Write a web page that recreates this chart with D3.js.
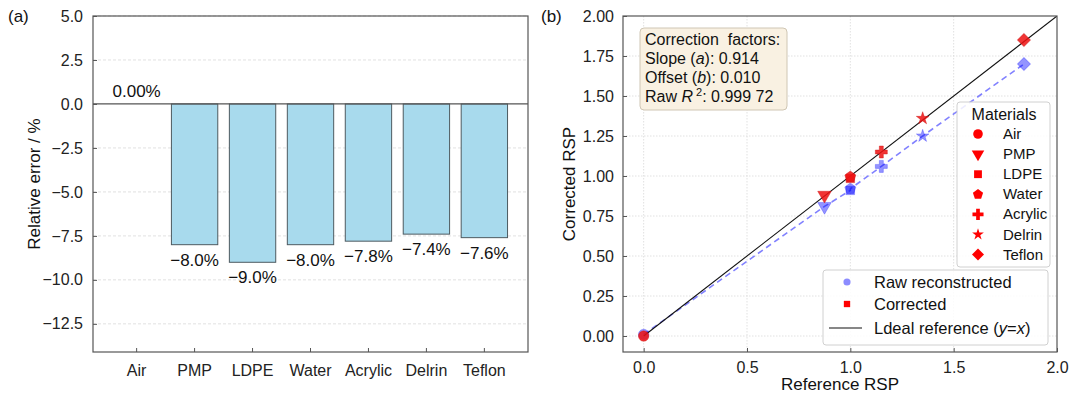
<!DOCTYPE html>
<html>
<head>
<meta charset="utf-8">
<script src="https://cdn.jsdelivr.net/npm/d3@7"></script>
<style>
  body { margin: 0; background: #fff; }
  svg { font-family: "Liberation Sans", Arial, sans-serif; display: block; }
  .grid line { stroke: #d9d9d9; stroke-width: 0.8; }
  .tick text { fill: #222; }
</style>
</head>
<body>
<div id="viz"></div>
<script>
const width = 1073;
const height = 399;

// data
const categories = ["Air", "PMP", "LDPE", "Water", "Acrylic", "Delrin", "Teflon"];
const relError = [0, -8.0, -9.0, -8.0, -7.8, -7.4, -7.6];
const errLabels = ["0.00%", "\u22128.0%", "\u22129.0%", "\u22128.0%", "\u22127.8%", "\u22127.4%", "\u22127.6%"];
const leftTicks = [5.0, 2.5, 0.0, -2.5, -5.0, -7.5, -10.0, -12.5];

const refRSP = [0.0, 0.875, 1.0, 1.0, 1.15, 1.35, 1.84];
const rawRSP = [0.01, 0.81, 0.91, 0.92, 1.06, 1.25, 1.70];
const corrRSP = [0.0, 0.88, 0.985, 0.995, 1.15, 1.36, 1.85];
const rightXTicks = [0.0, 0.5, 1.0, 1.5, 2.0];
const rightYTicks = [0.0, 0.25, 0.5, 0.75, 1.0, 1.25, 1.5, 1.75, 2.0];

const svg = d3.select("#viz")
    .append("svg")
    .attr("width", width)
    .attr("height", height);

const spine = "#555";
const minus = s => s.replace("-", "\u2212");

// ---------- panel (a) ----------
const a = { left: 93, right: 528, top: 16, bottom: 352 };

const xBand = d3.scaleBand()
    .domain(categories)
    .range([a.left, a.right])
    .paddingInner(0.2)
    .paddingOuter(0.353);

const yA = d3.scaleLinear()
    .domain([-14.1, 5.0])
    .range([a.bottom, a.top]);

const gA = svg.append("g");

// horizontal dashed grid
gA.append("g").attr("class", "grid")
    .selectAll("line")
    .data(leftTicks.filter(d => d !== 0))
    .join("line")
    .attr("x1", a.left).attr("x2", a.right)
    .attr("y1", d => yA(d)).attr("y2", d => yA(d))
    .attr("stroke-dasharray", "3,2");

// bars
gA.selectAll("rect.bar")
    .data(categories)
    .join("rect")
    .attr("class", "bar")
    .attr("x", d => xBand(d))
    .attr("width", xBand.bandwidth())
    .attr("y", (d, i) => yA(Math.max(0, relError[i])))
    .attr("height", (d, i) => Math.abs(yA(relError[i]) - yA(0)))
    .attr("fill", "#a8daed")
    .attr("stroke", "#4d5a60")
    .attr("stroke-width", 1);

// zero line
gA.append("line")
    .attr("x1", a.left).attr("x2", a.right)
    .attr("y1", yA(0)).attr("y2", yA(0))
    .attr("stroke", "#555").attr("stroke-width", 1.2);

// value labels
gA.selectAll("text.val")
    .data(categories)
    .join("text")
    .attr("class", "val")
    .attr("x", d => xBand(d) + xBand.bandwidth() / 2)
    .attr("y", (d, i) => relError[i] === 0 ? yA(0) - 7 : yA(relError[i]) + 21)
    .attr("text-anchor", "middle")
    .attr("font-size", 17)
    .attr("fill", "#111")
    .text((d, i) => errLabels[i]);

// axes
const axA_y = d3.axisLeft(yA).tickValues(leftTicks)
    .tickFormat(d => minus(d3.format(".1f")(d)))
    .tickSize(-4).tickPadding(10);
gA.append("g")
    .attr("transform", `translate(${a.left},0)`)
    .call(axA_y)
    .call(g => g.select(".domain").remove())
    .call(g => g.selectAll(".tick line").attr("stroke", spine))
    .call(g => g.selectAll(".tick text").attr("font-size", 16));

const axA_x = d3.axisBottom(xBand).tickSize(-4).tickPadding(13);
gA.append("g")
    .attr("transform", `translate(0,${a.bottom})`)
    .call(axA_x)
    .call(g => g.select(".domain").remove())
    .call(g => g.selectAll(".tick line").attr("stroke", spine))
    .call(g => g.selectAll(".tick text").attr("font-size", 16));

gA.append("rect")
    .attr("x", a.left).attr("y", a.top)
    .attr("width", a.right - a.left).attr("height", a.bottom - a.top)
    .attr("fill", "none").attr("stroke", spine).attr("stroke-width", 1.2);

gA.append("text")
    .attr("transform", `translate(40, ${(a.top + a.bottom) / 2}) rotate(-90)`)
    .attr("text-anchor", "middle")
    .attr("font-size", 17)
    .attr("fill", "#111")
    .text("Relative error / %");

svg.append("text").attr("x", 8).attr("y", 22).attr("font-size", 17).attr("fill", "#111").text("(a)");

// ---------- panel (b) ----------
const b = { left: 623, right: 1057, top: 16, bottom: 352 };

const xB = d3.scaleLinear().domain([-0.1, 2.0]).range([b.left, b.right]);
const yB = d3.scaleLinear().domain([-0.1, 2.0]).range([b.bottom, b.top]);

const gB = svg.append("g");

const gridB = gB.append("g").attr("class", "grid");
gridB.selectAll("line.gx")
    .data(rightXTicks.slice(0, -1))
    .join("line")
    .attr("x1", d => xB(d)).attr("x2", d => xB(d))
    .attr("y1", b.top).attr("y2", b.bottom)
    .attr("stroke-dasharray", "1.5,1.5");
gridB.selectAll("line.gy")
    .data(rightYTicks.slice(0, -1))
    .join("line")
    .attr("x1", b.left).attr("x2", b.right)
    .attr("y1", d => yB(d)).attr("y2", d => yB(d))
    .attr("stroke-dasharray", "1.5,1.5");

// pentagon marker
const symbolPentagon = {
    draw(ctx, size) {
        const r = Math.sqrt(size / 2.378);
        for (let k = 0; k < 5; k++) {
            const ang = -Math.PI / 2 + k * 2 * Math.PI / 5;
            const px = r * Math.cos(ang), py = r * Math.sin(ang);
            if (k === 0) ctx.moveTo(px, py); else ctx.lineTo(px, py);
        }
        ctx.closePath();
    }
};

const markers = [
    { type: d3.symbolCircle, size: 85, rot: 0 },
    { type: d3.symbolTriangle, size: 80, rot: 180 },
    { type: d3.symbolSquare, size: 72, rot: 0 },
    { type: symbolPentagon, size: 80, rot: 0 },
    { type: d3.symbolCross, size: 80, rot: 0 },
    { type: d3.symbolStar, size: 50, rot: 0 },
    { type: d3.symbolSquare, size: 85, rot: 45 }
];

const clipB = svg.append("clipPath").attr("id", "clipB")
    .append("rect").attr("x", b.left).attr("y", b.top)
    .attr("width", b.right - b.left).attr("height", b.bottom - b.top);

// raw reconstructed dashed line
const rawLine = d3.line().x(d => xB(d[0])).y(d => yB(d[1]));
gB.append("path")
    .attr("d", rawLine(refRSP.map((r, i) => [r, rawRSP[i]])))
    .attr("fill", "none")
    .attr("stroke", "#6b6bff")
    .attr("stroke-width", 1.6)
    .attr("stroke-dasharray", "6,4")
    .attr("opacity", 0.85);

// raw markers
gB.selectAll("path.raw")
    .data(categories)
    .join("path")
    .attr("class", "raw")
    .attr("d", (d, i) => d3.symbol(markers[i].type, markers[i].size)())
    .attr("transform", (d, i) => `translate(${xB(refRSP[i])},${yB(rawRSP[i])}) rotate(${markers[i].rot})`)
    .attr("fill", "#0000ff")
    .attr("fill-opacity", 0.42)
    .attr("stroke", "#0000ff")
    .attr("stroke-opacity", 0.25);

// ideal y = x
gB.append("path")
    .attr("clip-path", "url(#clipB)")
    .attr("d", d3.line().x(d => xB(d)).y(d => yB(d))([0, 2.0]))
    .attr("stroke", "#111")
    .attr("stroke-width", 1.1)
    .attr("fill", "none");

// corrected markers
gB.selectAll("path.corr")
    .data(categories)
    .join("path")
    .attr("class", "corr")
    .attr("d", (d, i) => d3.symbol(markers[i].type, markers[i].size)())
    .attr("transform", (d, i) => `translate(${xB(refRSP[i])},${yB(corrRSP[i])}) rotate(${markers[i].rot})`)
    .attr("fill", "#ee1111")
    .attr("fill-opacity", 0.85)
    .attr("stroke", "#cc1111")
    .attr("stroke-opacity", 0.4);

// axes
const axB_y = d3.axisLeft(yB).tickValues(rightYTicks)
    .tickFormat(d3.format(".2f")).tickSize(-4).tickPadding(9);
gB.append("g")
    .attr("transform", `translate(${b.left},0)`)
    .call(axB_y)
    .call(g => g.select(".domain").remove())
    .call(g => g.selectAll(".tick line").attr("stroke", spine))
    .call(g => g.selectAll(".tick text").attr("font-size", 16));

const axB_x = d3.axisBottom(xB).tickValues(rightXTicks)
    .tickFormat(d3.format(".1f")).tickSize(-4).tickPadding(10);
gB.append("g")
    .attr("transform", `translate(0,${b.bottom})`)
    .call(axB_x)
    .call(g => g.select(".domain").remove())
    .call(g => g.selectAll(".tick line").attr("stroke", spine))
    .call(g => g.selectAll(".tick text").attr("font-size", 16));

gB.append("rect")
    .attr("x", b.left).attr("y", b.top)
    .attr("width", b.right - b.left).attr("height", b.bottom - b.top)
    .attr("fill", "none").attr("stroke", spine).attr("stroke-width", 1.2);

gB.append("text")
    .attr("transform", `translate(575, ${(b.top + b.bottom) / 2}) rotate(-90)`)
    .attr("text-anchor", "middle")
    .attr("font-size", 17)
    .attr("fill", "#111")
    .text("Corrected RSP");

gB.append("text")
    .attr("x", (b.left + b.right) / 2)
    .attr("y", 390)
    .attr("text-anchor", "middle")
    .attr("font-size", 17)
    .attr("fill", "#111")
    .text("Reference RSP");

svg.append("text").attr("x", 541).attr("y", 22).attr("font-size", 17).attr("fill", "#111").text("(b)");

// correction factors box
const box = gB.append("g");
box.append("rect")
    .attr("x", 640).attr("y", 28).attr("width", 147).attr("height", 82)
    .attr("rx", 4)
    .attr("fill", "#f9f1e2")
    .attr("stroke", "#cfc6b4")
    .attr("stroke-width", 1);
const boxText = box.append("text")
    .attr("font-size", 16)
    .attr("fill", "#111")
    .style("white-space", "pre");
boxText.append("tspan").attr("x", 645).attr("y", 45).text("Correction  factors:");
const l2 = boxText.append("tspan").attr("x", 645).attr("y", 64);
l2.append("tspan").text("Slope (");
l2.append("tspan").attr("font-style", "italic").text("a");
l2.append("tspan").text("): 0.914");
const l3 = boxText.append("tspan").attr("x", 645).attr("y", 83);
l3.append("tspan").text("Offset (");
l3.append("tspan").attr("font-style", "italic").text("b");
l3.append("tspan").text("): 0.010");
const l4 = boxText.append("tspan").attr("x", 645).attr("y", 102);
l4.append("tspan").text("Raw ");
l4.append("tspan").attr("font-style", "italic").text("R");
l4.append("tspan").attr("font-size", 11).attr("dy", -6).text(" 2");
l4.append("tspan").attr("dy", 6).text(": 0.999 72");

// materials legend
const leg = gB.append("g");
leg.append("rect")
    .attr("x", 957).attr("y", 102).attr("width", 93).attr("height", 165)
    .attr("rx", 3)
    .attr("fill", "#fff").attr("fill-opacity", 0.85)
    .attr("stroke", "#d0d0d0");
leg.append("text")
    .attr("x", 1004).attr("y", 120)
    .attr("text-anchor", "middle")
    .attr("font-size", 16)
    .attr("fill", "#111")
    .text("Materials");
const legItems = leg.selectAll("g.item")
    .data(categories)
    .join("g")
    .attr("class", "item")
    .attr("transform", (d, i) => `translate(978, ${134 + i * 20.1})`);
legItems.append("path")
    .attr("d", (d, i) => d3.symbol(markers[i].type, markers[i].size * 0.85)())
    .attr("transform", (d, i) => `rotate(${markers[i].rot})`)
    .attr("fill", "#f00");
legItems.append("text")
    .attr("x", 25).attr("y", 5)
    .attr("font-size", 15)
    .attr("fill", "#111")
    .text(d => d);

// series legend
const leg2 = gB.append("g");
leg2.append("rect")
    .attr("x", 823).attr("y", 270).attr("width", 225).attr("height", 75)
    .attr("rx", 3)
    .attr("fill", "#fff").attr("fill-opacity", 0.85)
    .attr("stroke", "#d0d0d0");
leg2.append("path")
    .attr("d", d3.symbol(d3.symbolCircle, 40)())
    .attr("transform", "translate(847,282)")
    .attr("fill", "#0000ff").attr("fill-opacity", 0.45);
leg2.append("path")
    .attr("d", d3.symbol(d3.symbolSquare, 40)())
    .attr("transform", "translate(847,304)")
    .attr("fill", "#f00");
leg2.append("line")
    .attr("x1", 829).attr("x2", 862).attr("y1", 328).attr("y2", 328)
    .attr("stroke", "#111").attr("stroke-width", 1.1);
leg2.append("text").attr("x", 874).attr("y", 288)
    .attr("font-size", 16.5).attr("fill", "#111").text("Raw reconstructed");
leg2.append("text").attr("x", 874).attr("y", 310)
    .attr("font-size", 16.5).attr("fill", "#111").text("Corrected");
const ideal = leg2.append("text").attr("x", 874).attr("y", 334)
    .attr("font-size", 16.5).attr("fill", "#111");
ideal.append("tspan").text("Ldeal reference (");
ideal.append("tspan").attr("font-style", "italic").text("y");
ideal.append("tspan").text("=");
ideal.append("tspan").attr("font-style", "italic").text("x");
ideal.append("tspan").text(")");
</script>
</body>
</html>
